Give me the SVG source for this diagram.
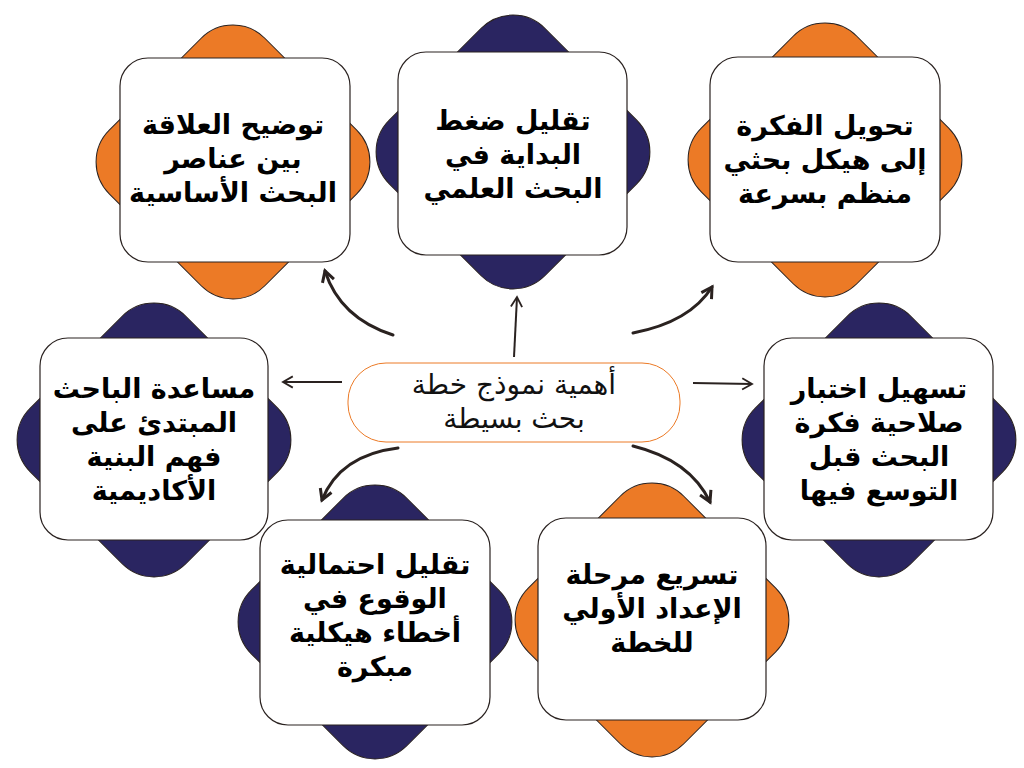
<svg xmlns="http://www.w3.org/2000/svg" width="1024" height="768" viewBox="0 0 1024 768">
<defs>
<style>
.o{fill:#ec7a26;stroke:#2a2220;stroke-width:1}
.n{fill:#2a2561;stroke:#2a2220;stroke-width:1}
.card{fill:#fff;stroke:#2a2220;stroke-width:1.2}
.t{font-family:"DejaVu Sans",sans-serif;font-weight:bold;font-size:27px;fill:#000;text-anchor:middle;direction:rtl}
.c{font-family:"DejaVu Sans",sans-serif;font-size:28px;fill:#111;text-anchor:middle;direction:rtl}
.a{fill:none;stroke:#2a2220;stroke-width:3;stroke-linecap:round;marker-end:url(#m)}
.s{fill:none;stroke:#2a2220;stroke-width:2;marker-end:url(#m2)}
</style>
<marker id="m" viewBox="0 0 10 10" refX="8" refY="5" markerWidth="5" markerHeight="5" orient="auto"><path d="M1,1 L8,5 L1,9" fill="none" stroke="#2a2220" stroke-width="2"/></marker>
<marker id="m2" viewBox="0 0 10 10" refX="8" refY="5" markerWidth="7" markerHeight="7" orient="auto"><path d="M1,1 L8,5 L1,9" fill="none" stroke="#2a2220" stroke-width="1.3"/></marker>
</defs>
<rect width="1024" height="768" fill="#fff"/>
<g id="connectors">
<path class="a" d="M393,335 Q340,318 325,271"/>
<path class="s" d="M514,357 L517,297"/>
<path class="a" d="M633,333 Q690,322 712,287"/>
<path class="s" d="M342,382 L283,382"/>
<path class="s" d="M693,383 L752,384"/>
<path class="a" d="M398,448 Q340,455 322,500"/>
<path class="a" d="M633,446 Q690,460 710,502"/>
</g>
<g id="n1"><rect class="o" x="-110" y="-110" width="220" height="220" rx="45" transform="translate(233,162) rotate(45)"/><rect class="card" x="120" y="58" width="230" height="204" rx="28"/>
<text class="t" x="233" y="134">توضيح العلاقة</text><text class="t" x="233" y="168">بين عناصر</text><text class="t" x="233" y="202">البحث الأساسية</text></g>
<g id="n2"><rect class="n" x="-110" y="-110" width="220" height="220" rx="45" transform="translate(513,152) rotate(45)"/><rect class="card" x="398" y="52" width="229" height="203" rx="28"/>
<text class="t" x="513" y="130">تقليل ضغط</text><text class="t" x="513" y="164">البداية في</text><text class="t" x="513" y="198">البحث العلمي</text></g>
<g id="n3"><rect class="o" x="-110" y="-110" width="220" height="220" rx="45" transform="translate(825,160) rotate(45)"/><rect class="card" x="710" y="57" width="230" height="205" rx="28"/>
<text class="t" x="825" y="135">تحويل الفكرة</text><text class="t" x="825" y="169">إلى هيكل بحثي</text><text class="t" x="825" y="203">منظم بسرعة</text></g>
<g id="n4"><rect class="n" x="-110" y="-110" width="220" height="220" rx="45" transform="translate(879,440) rotate(45)"/><rect class="card" x="764" y="338" width="229" height="202" rx="28"/>
<text class="t" x="879" y="398">تسهيل اختبار</text><text class="t" x="879" y="432">صلاحية فكرة</text><text class="t" x="879" y="466">البحث قبل</text><text class="t" x="879" y="500">التوسع فيها</text></g>
<g id="n5"><rect class="o" x="-110" y="-110" width="220" height="220" rx="45" transform="translate(652,620) rotate(45)"/><rect class="card" x="538" y="518" width="228" height="202" rx="28"/>
<text class="t" x="652" y="584">تسريع مرحلة</text><text class="t" x="652" y="618">الإعداد الأولي</text><text class="t" x="652" y="652">للخطة</text></g>
<g id="n6"><rect class="n" x="-110" y="-110" width="220" height="220" rx="45" transform="translate(375,622) rotate(45)"/><rect class="card" x="260" y="520" width="230" height="205" rx="28"/>
<text class="t" x="375" y="574">تقليل احتمالية</text><text class="t" x="375" y="608">الوقوع في</text><text class="t" x="375" y="642">أخطاء هيكلية</text><text class="t" x="375" y="676">مبكرة</text></g>
<g id="n7"><rect class="n" x="-110" y="-110" width="220" height="220" rx="45" transform="translate(154,440) rotate(45)"/><rect class="card" x="40" y="338" width="228" height="202" rx="28"/>
<text class="t" x="154" y="398">مساعدة الباحث</text><text class="t" x="154" y="432">المبتدئ على</text><text class="t" x="154" y="466">فهم البنية</text><text class="t" x="154" y="500">الأكاديمية</text></g>
<g id="center"><rect x="348" y="363" width="332" height="79" rx="38" fill="#fff" stroke="#ec7a26" stroke-width="1"/>
<text class="c" x="514" y="394">أهمية نموذج خطة</text><text class="c" x="514" y="428">بحث بسيطة</text></g>
</svg>
